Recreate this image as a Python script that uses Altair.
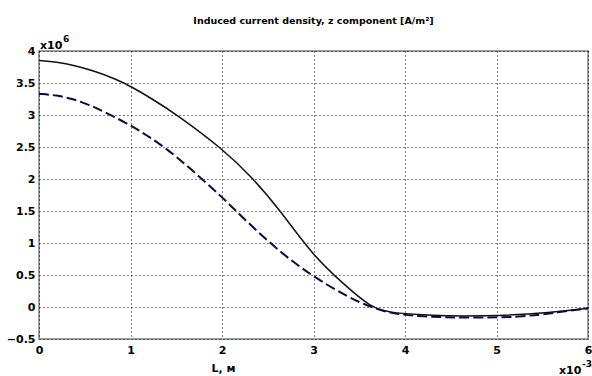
import altair as alt
import pandas as pd

solid_x = [0, 0.19, 0.40, 0.62, 0.84, 1.0, 1.25, 1.49, 2.0, 2.34, 2.63, 3.0, 3.36, 3.62, 3.84, 4.16, 4.38, 5.04, 5.58, 6.0]
solid_y = [3.85, 3.83, 3.77, 3.68, 3.56, 3.45, 3.24, 3.02, 2.48, 2.01, 1.52, 0.79, 0.32, 0.0, -0.09, -0.12, -0.14, -0.14, -0.09, -0.02]
dash_x = [0, 0.19, 0.37, 0.55, 0.73, 1.0, 1.17, 1.39, 1.65, 2.0, 2.23, 2.63, 3.0, 3.37, 3.62, 3.84, 4.16, 4.71, 5.26, 5.69, 6.0]
dash_y = [3.33, 3.31, 3.25, 3.16, 3.04, 2.84, 2.69, 2.48, 2.17, 1.72, 1.39, 0.86, 0.47, 0.16, 0.0, -0.10, -0.15, -0.17, -0.16, -0.08, -0.02]

x_ticks = [0, 1, 2, 3, 4, 5, 6]
y_ticks = [-0.5, 0, 0.5, 1, 1.5, 2, 2.5, 3, 3.5, 4]

df_s = pd.DataFrame({"L": solid_x, "J": solid_y})
df_d = pd.DataFrame({"L": dash_x, "J": dash_y})

W, H = 549, 288
FONT = "DejaVu Sans"

xs = alt.Scale(domain=[0, 6], nice=False, zero=False)
ys = alt.Scale(domain=[-0.5, 4], nice=False, zero=False)

xaxis = alt.Axis(values=x_ticks, format="d", title="L, м", titleX=184, titleY=32,
                 titleFont=FONT, titleFontSize=11, titleFontWeight="bold", titleColor="black",
                 titleAlign="center", titleBaseline="alphabetic",
                 labelFont=FONT, labelFontSize=11, labelFontWeight="bold", labelColor="black",
                 labelOverlap=False, labelFlush=False,
                 grid=True, gridDash=[1, 3], gridColor="black", gridOpacity=1,
                 domain=False, ticks=False, labelPadding=5)
yaxis = alt.Axis(values=y_ticks, format="~g", title=None,
                 labelFont=FONT, labelFontSize=11, labelFontWeight="bold", labelColor="black",
                 labelOverlap=False, labelFlush=False,
                 grid=True, gridDash=[1, 3], gridColor="black", gridOpacity=1,
                 domain=False, ticks=False, labelPadding=4)

solid = alt.Chart(df_s).mark_line(color="#111111", strokeWidth=1.5, interpolate="basis").encode(
    x=alt.X("L:Q", scale=xs, axis=xaxis),
    y=alt.Y("J:Q", scale=ys, axis=yaxis),
)
dashed = alt.Chart(df_d).mark_line(color="#0a0a45", strokeWidth=2, strokeDash=[10, 4], interpolate="basis").encode(
    x=alt.X("L:Q", scale=xs, axis=xaxis),
    y=alt.Y("J:Q", scale=ys, axis=yaxis),
)

def txt(t, x, y, size=11, align="left"):
    return alt.Chart(pd.DataFrame({"t": [t]})).mark_text(
        font=FONT, fontSize=size, fontWeight="bold", align=align, baseline="alphabetic", color="black"
    ).encode(text="t:N", x=alt.value(x), y=alt.value(y))

ann = [
    txt("x10", 1, -2),
    txt("6", 24, -9, size=9),
    txt("x10", 520, H + 35),
    txt("-3", 543, H + 28, size=9),
]

chart = alt.layer(solid, dashed, *ann).properties(
    width=W, height=H,
    title=alt.TitleParams("Induced current density, z component [A/m²]", font=FONT, fontSize=9.5,
                          fontWeight="bold", anchor="middle", offset=10, color="black"),
    padding={"left": 39, "top": 51, "right": 4, "bottom": 37},
    autosize=alt.AutoSizeParams(type="none"),
).configure_view(stroke="#808080", strokeWidth=1.5)

chart.save("out.html", embed_options={"renderer": "svg", "actions": False})
